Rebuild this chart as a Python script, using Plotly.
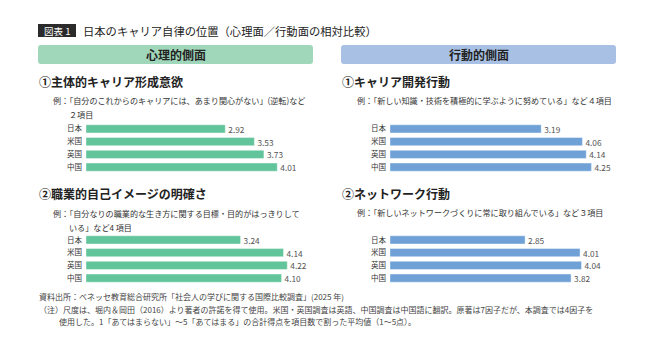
import plotly.graph_objects as go

W, H = 657, 343
FONT = "Noto Sans CJK JP"

countries = ["日本", "米国", "英国", "中国"]
career_formation = [2.92, 3.53, 3.73, 4.01]
self_image = [3.24, 4.14, 4.22, 4.10]
career_dev = [3.19, 4.06, 4.14, 4.25]
network = [2.85, 4.01, 4.04, 3.82]

GREEN = "rgb(98,196,155)"
BLUE = "rgb(111,161,214)"
GREEN_H = "rgb(160,214,186)"
BLUE_H = "rgb(168,192,228)"


def X(px):
    return px / W


def Y(py):
    return 1 - py / H


fig = go.Figure()

panels = [
    # values, color, x0 px, scale px/unit, y top, y bottom
    (career_formation, GREEN, 86, 47.7, 122.5, 173.5),
    (career_dev, BLUE, 390, 47.4, 122.5, 173.5),
    (self_image, GREEN, 86, 47.7, 233.5, 284.5),
    (network, BLUE, 390, 47.4, 233.5, 284.5),
]

layout_axes = {}
for i, (vals, col, x0, sc, yt, yb) in enumerate(panels, start=1):
    xa = "x" if i == 1 else f"x{i}"
    ya = "y" if i == 1 else f"y{i}"
    fig.add_trace(go.Bar(
        x=vals, y=countries, orientation="h",
        marker=dict(color=col, line=dict(color="rgba(255,255,255,0.5)", width=0.8)),
        text=[f"{v:.2f}" for v in vals], textposition="outside",
        constraintext="none",
        textfont=dict(family=FONT, size=8.3, color="#555"),
        cliponaxis=False, xaxis=xa, yaxis=ya, showlegend=False,
        hoverinfo="skip",
    ))
    xk = "xaxis" if i == 1 else f"xaxis{i}"
    yk = "yaxis" if i == 1 else f"yaxis{i}"
    layout_axes[xk] = dict(domain=[X(x0), X(x0 + sc * 5)], range=[0, 5], visible=False,
                           anchor=ya)
    layout_axes[yk] = dict(domain=[Y(yb), Y(yt)], type="category", autorange="reversed",
                           categoryorder="array", categoryarray=countries,
                           showgrid=False, zeroline=False, showline=False, ticks="",
                           tickfont=dict(family=FONT, size=7.5, color="#333"),
                           anchor=xa, ticklabelstandoff=3)

fig.update_layout(**layout_axes)


def rounded(x0, y0, x1, y1, r=3):
    def p(x, y):
        return f"{X(x):.5f},{Y(y):.5f}"
    path = (f"M {p(x0 + r, y0)} L {p(x1 - r, y0)} Q {p(x1, y0)} {p(x1, y0 + r)} "
            f"L {p(x1, y1 - r)} Q {p(x1, y1)} {p(x1 - r, y1)} "
            f"L {p(x0 + r, y1)} Q {p(x0, y1)} {p(x0, y1 - r)} "
            f"L {p(x0, y0 + r)} Q {p(x0, y0)} {p(x0 + r, y0)} Z")
    return path


shapes = [
    dict(type="rect", xref="paper", yref="paper", x0=X(38), x1=X(76), y0=Y(37), y1=Y(24),
         fillcolor="#2b2b2b", line=dict(width=0)),
    dict(type="path", xref="paper", yref="paper", path=rounded(38, 45, 313, 64),
         fillcolor=GREEN_H, line=dict(width=0)),
    dict(type="path", xref="paper", yref="paper", path=rounded(341, 45, 616, 64),
         fillcolor=BLUE_H, line=dict(width=0)),
]

ann = []


def text(x, y, s, size, color="#222", bold=False, xanchor="left"):
    if bold:
        s = f"<b>{s}</b>"
    ann.append(dict(x=X(x), y=Y(y), xref="paper", yref="paper", text=s, showarrow=False,
                    xanchor=xanchor, yanchor="middle",
                    font=dict(family=FONT, size=size, color=color)))


text(57, 30.5, "図表 1", 9.5, color="white", xanchor="center")
text(81, 30.5, "日本のキャリア自律の位置（心理面／行動面の相対比較）", 11.3, color="#222")
text(175.5, 54.5, "心理的側面", 12, color="#222", bold=True, xanchor="center")
text(478.5, 54.5, "行動的側面", 12, color="#222", bold=True, xanchor="center")

text(37, 82, "①主体的キャリア形成意欲", 12, color="#222", bold=True)
text(340, 82, "①キャリア開発行動", 12, color="#222", bold=True)
text(37, 193, "②職業的自己イメージの明確さ", 12, color="#222", bold=True)
text(340, 193, "②ネットワーク行動", 12, color="#222", bold=True)

text(51, 101, "例：「自分のこれからのキャリアには、あまり関心がない」(逆転)など", 8.1, color="#333")
text(67, 114, "２項目", 8.1, color="#333")
text(355, 100, "例：「新しい知識・技術を積極的に学ぶように努めている」など４項目", 8.1, color="#333")
text(51, 213, "例：「自分なりの職業的な生き方に関する目標・目的がはっきりして", 8.1, color="#333")
text(67, 227, "いる」など4 項目", 8.1, color="#333")
text(355, 212, "例：「新しいネットワークづくりに常に取り組んでいる」など３項目", 8.1, color="#333")

text(37, 296, "資料出所：ベネッセ教育総合研究所「社会人の学びに関する国際比較調査」(2025 年)", 8, color="#444")
text(37, 309, "（注）尺度は、堀内＆岡田（2016）より著者の許諾を得て使用。米国・英国調査は英語、中国調査は中国語に翻訳。原著は7因子だが、本調査では4因子を", 8, color="#444")
text(57, 321, "使用した。1「あてはまらない」～5「あてはまる」の合計得点を項目数で割った平均値（1～5点）。", 8, color="#444")

fig.update_layout(
    width=W, height=H, margin=dict(l=0, r=0, t=0, b=0),
    paper_bgcolor="white", plot_bgcolor="rgba(0,0,0,0)",
    bargap=0.36, shapes=shapes, annotations=ann,
    font=dict(family=FONT),
)

fig.write_html("out.html")
